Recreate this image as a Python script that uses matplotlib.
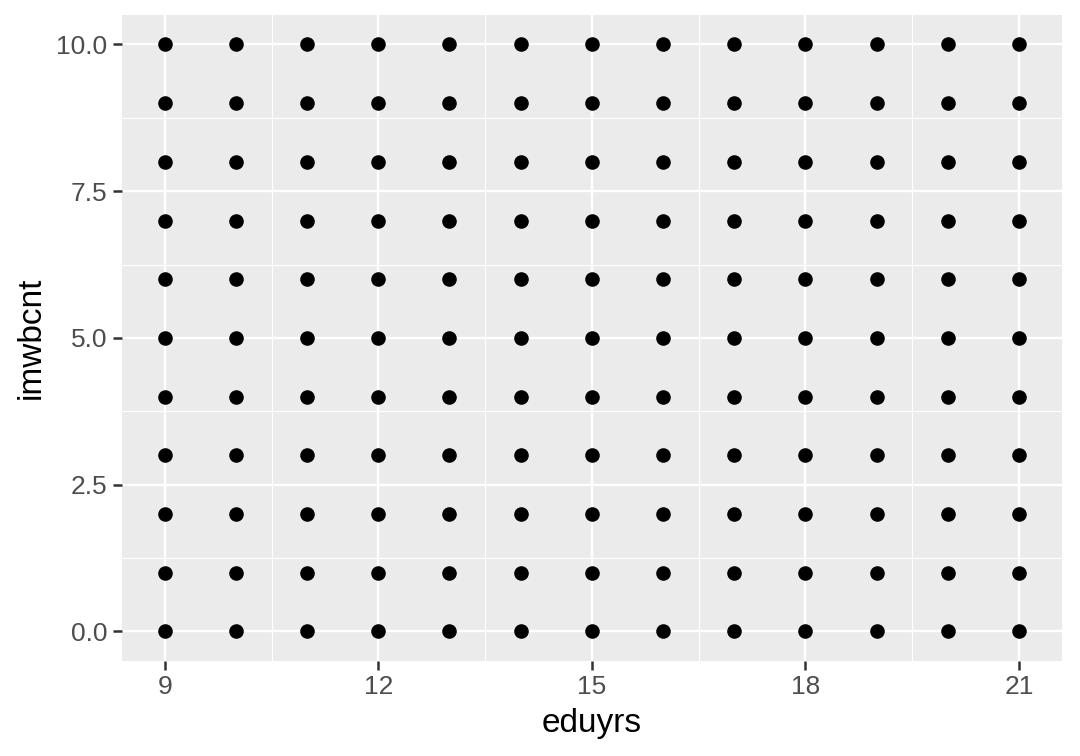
import numpy as np
import matplotlib.pyplot as plt

plt.rcParams['font.family'] = ['Liberation Sans', 'DejaVu Sans']

# observed combinations: every eduyrs value paired with every imwbcnt value
eduyrs = [9, 10, 11, 12, 13, 14, 15, 16, 17, 18, 19, 20, 21]
imwbcnt = [0, 1, 2, 3, 4, 5, 6, 7, 8, 9, 10]

x_ticks = [9, 12, 15, 18, 21]
y_ticks = [0.0, 2.5, 5.0, 7.5, 10.0]
x_minor = [10.5, 13.5, 16.5, 19.5]
y_minor = [1.25, 3.75, 6.25, 8.75]

xx, yy = np.meshgrid(eduyrs, imwbcnt)

fig = plt.figure(figsize=(10.8, 7.56), dpi=100)
ax = fig.add_axes([0.113, 0.126, 0.870, 0.854])
ax.set_facecolor("#EBEBEB")

ax.scatter(xx.ravel(), yy.ravel(), s=110, color="black", linewidths=0, zorder=3)

ax.set_xlim(8.4, 21.6)
ax.set_ylim(-0.5, 10.5)
ax.set_xticks(x_ticks)
ax.set_xticklabels([str(v) for v in x_ticks])
ax.set_yticks(y_ticks)
ax.set_yticklabels(["%.1f" % v for v in y_ticks])
ax.set_xticks(x_minor, minor=True)
ax.set_yticks(y_minor, minor=True)

ax.grid(which="major", color="white", linewidth=1.7, zorder=0)
ax.grid(which="minor", color="white", linewidth=0.85, zorder=0)
ax.set_axisbelow(True)

for sp in ax.spines.values():
    sp.set_visible(False)

ax.tick_params(which="major", length=6.5, width=1.8, color="#333333",
               labelcolor="#4D4D4D", labelsize=19, pad=4)
ax.tick_params(which="minor", length=0)

ax.set_xlabel("eduyrs", fontsize=24, color="black", labelpad=6)
ax.set_ylabel("imwbcnt", fontsize=24, color="black", labelpad=7)

plt.savefig("out.png", dpi=100)
